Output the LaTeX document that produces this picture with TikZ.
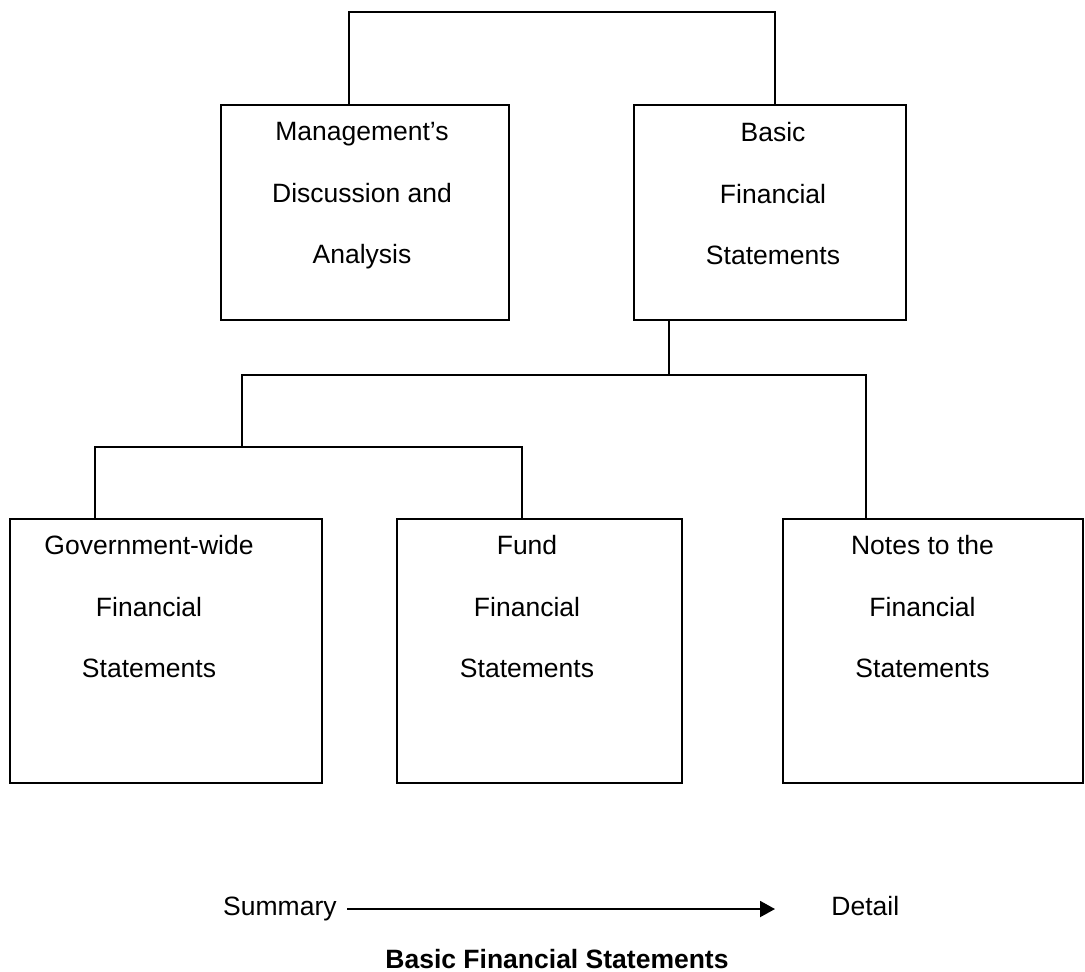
\documentclass[tikz,border=0pt]{standalone}
\usepackage{fontspec}
\setmainfont{Liberation Sans}
\usetikzlibrary{positioning,arrows.meta}
\tikzstyle{block} = [draw=black, line width=1pt, rectangle, anchor=north west, inner sep=0pt, outer sep=0pt]
\tikzstyle{blocktext} = [align=center, inner sep=0pt, anchor=north, font=\fontsize{13.25pt}{30.75pt}\selectfont]
\tikzstyle{scaletext} = [inner sep=0pt, text height=9.5pt, text depth=2.8pt, font=\fontsize{13.25pt}{16pt}\selectfont]
\tikzstyle{titletext} = [inner sep=0pt, anchor=base, font=\fontsize{13.25pt}{16pt}\selectfont\bfseries]
\tikzstyle{line} = [draw=black, line width=1pt]

\begin{document}
\begin{tikzpicture}[x=0.5pt, y=-0.5pt, node distance=8pt, >={Triangle[length=7.5pt,width=8pt]}]
	\useasboundingbox (0,0) rectangle (1085,971);

	% top row
	\node [block, minimum width=144pt, minimum height=107.5pt] (mda) at (221,105) {};
	\node [block, minimum width=136pt, minimum height=107.5pt] (bfs) at (634,105) {};
	% bottom row
	\node [block, minimum width=156pt, minimum height=132pt] (gov) at (10,519) {};
	\node [block, minimum width=142.5pt, minimum height=132pt] (fund) at (397,519) {};
	\node [block, minimum width=150pt, minimum height=132pt] (notes) at (783,519) {};

	\node [blocktext, below=8.5pt of mda.north, xshift=-1.5pt] (mdatext) {Management’s\\Discussion and\\Analysis};
	\node [blocktext, below=8.5pt of bfs.north, xshift=1.5pt] (bfstext) {Basic\\Financial\\Statements};
	\node [blocktext, below=8pt of gov.north, xshift=-8.5pt] (govtext) {Government-wide\\Financial\\Statements};
	\node [blocktext, below=8pt of fund.north, xshift=-6.25pt] (fundtext) {Fund\\Financial\\Statements};
	\node [blocktext, below=8pt of notes.north, xshift=-5.25pt] (notestext) {Notes to the\\Financial\\Statements};

	\coordinate (split1) at (669,375);
	\coordinate (split2) at (242,447);

	\draw [line] ([xshift=-8pt]mda.north) -- ++(0,-93) -| ([xshift=2.5pt]bfs.north);
	\draw [line] ([xshift=-50.5pt]bfs.south) -- (split1);
	\draw [line] (split2) |- (split1) -| ([xshift=-33.5pt]notes.north);
	\draw [line] ([xshift=-35.5pt]gov.north) |- (split2) -| ([xshift=-8.75pt]fund.north);

	% summary to detail
	\node [scaletext, anchor=east] (summary) at (337,909) {Summary};
	\node [scaletext, anchor=west] (detail) at (831,909) {Detail};
	\draw [->, line] ([xshift=5pt]summary.east) -- ([xshift=-28pt]detail.west);

	\node [titletext] (title) at (557,968) {Basic Financial Statements};
\end{tikzpicture}
\end{document}
